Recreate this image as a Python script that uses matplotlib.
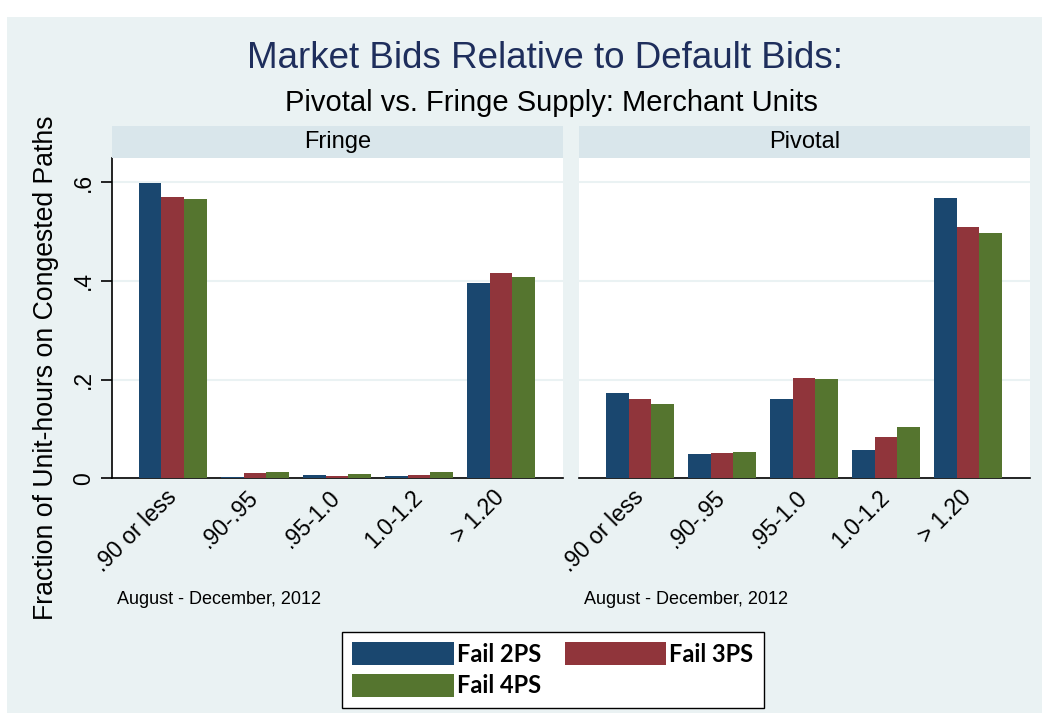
import numpy as np
import matplotlib
matplotlib.use('Agg')
import matplotlib.pyplot as plt
from matplotlib.patches import Rectangle

plt.rcParams['font.family'] = ['Liberation Sans', 'DejaVu Sans']

# data
categories = ['.90 or less', '.90-.95', '.95-1.0', '1.0-1.2', '> 1.20']
series = ['Fail 2PS', 'Fail 3PS', 'Fail 4PS']
fringe_2ps = [0.598, 0.003, 0.007, 0.005, 0.396]
fringe_3ps = [0.569, 0.010, 0.005, 0.006, 0.416]
fringe_4ps = [0.566, 0.012, 0.009, 0.013, 0.407]
pivotal_2ps = [0.172, 0.049, 0.161, 0.057, 0.567]
pivotal_3ps = [0.161, 0.052, 0.203, 0.083, 0.509]
pivotal_4ps = [0.150, 0.053, 0.202, 0.103, 0.498]
yticks = [0, 0.2, 0.4, 0.6]
ytick_labels = ['0', '.2', '.4', '.6']

colors = ['#1a476f', '#90353b', '#55752f']
bg = '#eaf2f3'
strip_col = '#d9e6eb'

W, H = 1048, 713
fig = plt.figure(figsize=(W / 100, H / 100), dpi=100, facecolor='white')
fig.patches.append(Rectangle((7 / W, 0), (1042 - 7) / W, 1 - 17 / H,
                             transform=fig.transFigure, facecolor=bg,
                             edgecolor='none', zorder=-10))

bottom = 1 - 478.3 / H
height = (478.3 - 158) / H
ax1 = fig.add_axes([111.7 / W, bottom, (563 - 111.7) / W, height])
ax2 = fig.add_axes([579 / W, bottom, (1030 - 579) / W, height])

x = np.arange(len(categories))
bw = 0.2775
panels = [(ax1, 'Fringe', [fringe_2ps, fringe_3ps, fringe_4ps], 111.7, 563),
          (ax2, 'Pivotal', [pivotal_2ps, pivotal_3ps, pivotal_4ps], 579, 1030)]

bars = []
for ax, name, vals, x0, x1 in panels:
    ax.set_facecolor('white')
    for i, v in enumerate(vals):
        b = ax.bar(x + (i - 1) * bw, v, bw, color=colors[i], label=series[i], zorder=3)
        if ax is ax1:
            bars.append(b)
    ax.set_xlim(-0.745, 4.755)
    ax.set_ylim(0, 0.649)
    ax.set_yticks(yticks)
    ax.yaxis.grid(True, color=bg, linewidth=1.5)
    ax.set_axisbelow(True)
    ax.set_xticks(x)
    ax.set_xticklabels(categories, rotation=45, ha='right', va='center',
                       rotation_mode='anchor', fontsize=16.5)
    ax.tick_params(axis='x', length=0, pad=11)
    for s in ['top', 'right']:
        ax.spines[s].set_visible(False)
    ax.spines['bottom'].set_linewidth(1.2)

    # panel header strip
    sax = fig.add_axes([x0 / W, 1 - 158 / H, (x1 - x0) / W, 32 / H])
    sax.set_facecolor(strip_col)
    sax.set_xticks([])
    sax.set_yticks([])
    for s in sax.spines.values():
        s.set_visible(False)
    sax.text(0.5, 0.5, name, ha='center', va='center', fontsize=17,
             transform=sax.transAxes)

    fig.text((x0 + 5) / W, 1 - 600 / H, 'August - December, 2012',
             fontsize=13, ha='left', va='center')

ax1.set_yticklabels(ytick_labels, rotation=90, va='center', fontsize=16.5)
ax1.tick_params(axis='y', length=8, width=1.2, pad=4)
ax1.spines['left'].set_linewidth(1.2)
ax2.spines['left'].set_visible(False)
ax2.tick_params(axis='y', length=0, labelleft=False)

fig.text(545 / W, 1 - 59 / H, 'Market Bids Relative to Default Bids:',
         fontsize=26.5, color='#1e2e5c', ha='center', va='center')
fig.text(551 / W, 1 - 103 / H, 'Pivotal vs. Fringe Supply: Merchant Units',
         fontsize=21, ha='center', va='center')
fig.text(46 / W, 1 - 367.5 / H, 'Fraction of Unit-hours on Congested Paths',
         fontsize=19.2, rotation=90, ha='center', va='center')

# legend laid out row-wise: 2PS, 3PS / 4PS
leg = fig.legend([bars[0], bars[2], bars[1]], [series[0], series[2], series[1]],
                 loc='upper left', bbox_to_anchor=(341.7 / W, 1 - 631.7 / H),
                 bbox_transform=fig.transFigure, borderaxespad=0, ncol=2,
                 prop=dict(family='Lato', weight='bold', size=17),
                 handlelength=4.3, handleheight=1.1, handletextpad=0.12,
                 labelspacing=0.35, columnspacing=1.0, borderpad=0.45,
                 fancybox=False, framealpha=1, edgecolor='black')
leg.get_frame().set_linewidth(1.0)

fig.savefig('out.png', dpi=100, facecolor=fig.get_facecolor())
